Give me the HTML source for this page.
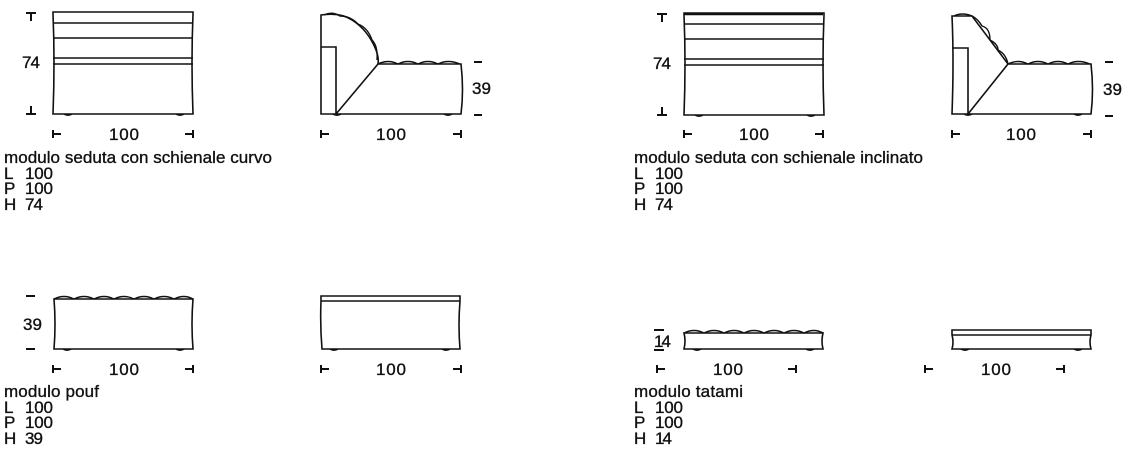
<!DOCTYPE html>
<html><head><meta charset="utf-8"><style>
html,body{margin:0;padding:0;background:#fff}
svg{display:block}
text{font-family:"Liberation Sans",sans-serif;font-size:17px;fill:#111;stroke:#111;stroke-width:0.35}
</style></head><body>
<svg width="1135" height="466" viewBox="0 0 1135 466" xmlns="http://www.w3.org/2000/svg">
<defs>
<g id="front74" fill="none" stroke="#111" stroke-width="1.6">
  <path d="M0,0 H140 V2 Q138,50 140,102 H0 Q2,50 0,2 Z"/>
  <line x1="0" y1="11" x2="140" y2="11"/>
  <line x1="0" y1="26" x2="140" y2="26"/>
  <line x1="0" y1="46" x2="140" y2="46"/>
  <line x1="0" y1="52" x2="140" y2="52"/>
  <path d="M11,102 Q15,104.5 19,102 M123,102 Q127,104.5 131,102" stroke-width="1.6"/>
</g>
</defs>
<g stroke="#111" stroke-width="1.4" fill="none">
<use href="#front74" x="53" y="12"/>
<path d="M321,15 Q340,12 352,20 Q368,30 376,50 Q379,58 378,64 L461,64 Q464,90 461,114 L321,114 Z" stroke-width="1.6"/>
<path d="M321,47 H336 V114 M336,114 L378,64" stroke-width="1.6"/>
<path d="M378,64 q10,-5 20,0 q10,-5 20,0 q10,-5 20,0 q10,-5 22,0"/>
<path d="M324,15 q8,-4 16,1 q10,0 18,8 q10,4 14,16 q6,6 5,20"/>
<path d="M333,114 Q337,116.5 341,114 M444,114 Q448,116.5 452,114" stroke-width="1.6"/>
<use href="#front74" x="684" y="13"/>
<line x1="684" y1="14" x2="823" y2="14" stroke-width="2.5"/>
<path d="M952,16 H972 L1008,64 H1091 Q1094,90 1091,114 H952 Q954,60 952,16 Z" stroke-width="1.6"/>
<path d="M952,48 H968 V114 M968,114 L1008,64" stroke-width="1.6"/>
<path d="M954,16 q8,-4 18,0 q6,3 10,10 q8,2 8,14 q8,4 8,10 q8,4 10,14"/>
<path d="M1008,64 q10,-5 20,0 q10,-5 20,0 q10,-5 20,0 q10,-5 22,0"/>
<path d="M964,114 Q968,116.5 972,114 M1074,114 Q1078,116.5 1082,114" stroke-width="1.6"/>
<path d="M54,299 H193 Q191,324 193,349 H54 Q56,324 54,299 Z" stroke-width="1.6"/>
<path d="M54,299 q10,-5 20,0 q10,-5 20,0 q10,-5 20,0 q10,-5 20,0 q10,-5 20,0 q10,-5 20,0 q10,-5 19,0"/>
<path d="M63,349 Q67,351.5 71,349 M176,349 Q180,351.5 184,349" stroke-width="1.6"/>
<path d="M321,296 H460 V301 Q458,325 460,349 H322 Q320,325 321,301 Z" stroke-width="1.6"/>
<line x1="321" y1="301" x2="460" y2="301"/>
<path d="M330,349 Q334,351.5 338,349 M442,349 Q446,351.5 450,349" stroke-width="1.6"/>
<path d="M684,333 H823 Q821,341 823,349 H684 Q686,341 684,333 Z" stroke-width="1.6"/>
<path d="M684,333 q10,-5 20,0 q10,-5 20,0 q10,-5 20,0 q10,-5 20,0 q10,-5 20,0 q10,-5 20,0 q10,-5 19,0"/>
<path d="M693,349 Q697,351.5 701,349 M806,349 Q810,351.5 814,349" stroke-width="1.6"/>
<path d="M952,330 H1091 V335 Q1089,342 1091,349 H952 Q954,342 952,335 Z" stroke-width="1.6"/>
<line x1="952" y1="335" x2="1091" y2="335"/>
<path d="M961,349 Q965,351.5 969,349 M1074,349 Q1078,351.5 1082,349" stroke-width="1.6"/>
<g stroke-width="2">
<path d="M26,13 h10 M31,13 v8 M26,114 h10 M31,114 v-8"/>
<path d="M657,14 h10 M662,14 v8 M657,115 h10 M662,115 v-8"/>
<path d="M474,62 h8 M474,115 h8 M1105,62 h8 M1105,116 h8"/>
<path d="M26,296 h9 M26,349 h9 M654,330 h10 M654,350 h10"/>
</g>
<g stroke-width="2">
<path d="M53,130 v8 M53,134 h8 M193,130 v8 M193,134 h-8"/>
<path d="M321,130 v8 M321,134 h8 M461,130 v8 M461,134 h-8"/>
<path d="M684,130 v8 M684,134 h8 M823,130 v8 M823,134 h-8"/>
<path d="M952,130 v8 M952,134 h8 M1091,130 v8 M1091,134 h-8"/>
<path d="M53,365 v8 M53,369 h8 M193,365 v8 M193,369 h-8"/>
<path d="M321,365 v8 M321,369 h8 M461,365 v8 M461,369 h-8"/>
<path d="M657,365 v8 M657,369 h8 M796,365 v8 M796,369 h-8"/>
<path d="M925,365 v8 M925,369 h8 M1064,365 v8 M1064,369 h-8"/>
</g>
</g>
<text x="22" y="68" textLength="18">74</text>
<text x="653" y="69" textLength="18">74</text>
<text x="472" y="94" textLength="19">39</text>
<text x="1103" y="95" textLength="19">39</text>
<text x="23" y="330" textLength="19">39</text>
<text x="654" y="347" textLength="17">14</text>
<text x="109" y="140" textLength="30">100</text>
<text x="376" y="140" textLength="30">100</text>
<text x="739" y="140" textLength="30">100</text>
<text x="1006" y="140" textLength="30">100</text>
<text x="109" y="375" textLength="30">100</text>
<text x="376" y="375" textLength="30">100</text>
<text x="713" y="375" textLength="30">100</text>
<text x="981" y="375" textLength="30">100</text>
<text x="4" y="163" textLength="268">modulo seduta con schienale curvo</text>
<text x="4" y="179">L</text><text x="25" y="179" textLength="28">100</text>
<text x="4" y="194">P</text><text x="25" y="194" textLength="28">100</text>
<text x="4" y="210">H</text><text x="25" y="210" textLength="18">74</text>
<text x="634" y="163" textLength="289">modulo seduta con schienale inclinato</text>
<text x="634" y="179">L</text><text x="655" y="179" textLength="28">100</text>
<text x="634" y="194">P</text><text x="655" y="194" textLength="28">100</text>
<text x="634" y="210">H</text><text x="655" y="210" textLength="18">74</text>
<text x="4" y="397" textLength="95">modulo pouf</text>
<text x="4" y="413">L</text><text x="25" y="413" textLength="28">100</text>
<text x="4" y="428">P</text><text x="25" y="428" textLength="28">100</text>
<text x="4" y="444">H</text><text x="25" y="444" textLength="18">39</text>
<text x="634" y="397" textLength="109">modulo tatami</text>
<text x="634" y="413">L</text><text x="655" y="413" textLength="28">100</text>
<text x="634" y="428">P</text><text x="655" y="428" textLength="28">100</text>
<text x="634" y="444">H</text><text x="655" y="444" textLength="17">14</text>
</svg>
</body></html>
